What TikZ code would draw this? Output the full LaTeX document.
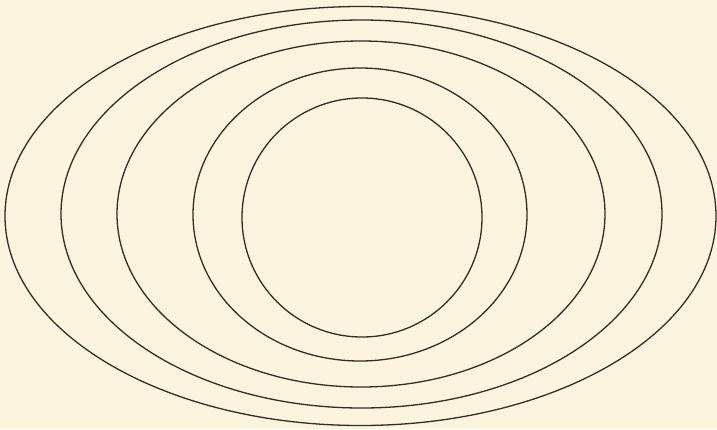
\documentclass[tikz,border=0pt]{standalone}
\usepackage{tikz}
\definecolor{paper}{HTML}{FCF4DF}
\definecolor{ink}{HTML}{3A2A20}
\begin{document}
\begin{tikzpicture}[x=1pt,y=-1pt,ring/.style={draw=ink,line width=1.3pt}]
\fill[paper] (0,0) rectangle (717,429);
\useasboundingbox (0,0) rectangle (717,429);
\draw[ring] (360.5,216) ellipse [x radius=355.5, y radius=209.5];
\draw[ring] (361.5,214) ellipse [x radius=300.5, y radius=194];
\draw[ring] (361,214) ellipse [x radius=244, y radius=173];
\draw[ring] (360,214.5) ellipse [x radius=167, y radius=146.5];
\draw[ring] (362,217.5) ellipse [x radius=120, y radius=119.5];
\end{tikzpicture}
\end{document}
